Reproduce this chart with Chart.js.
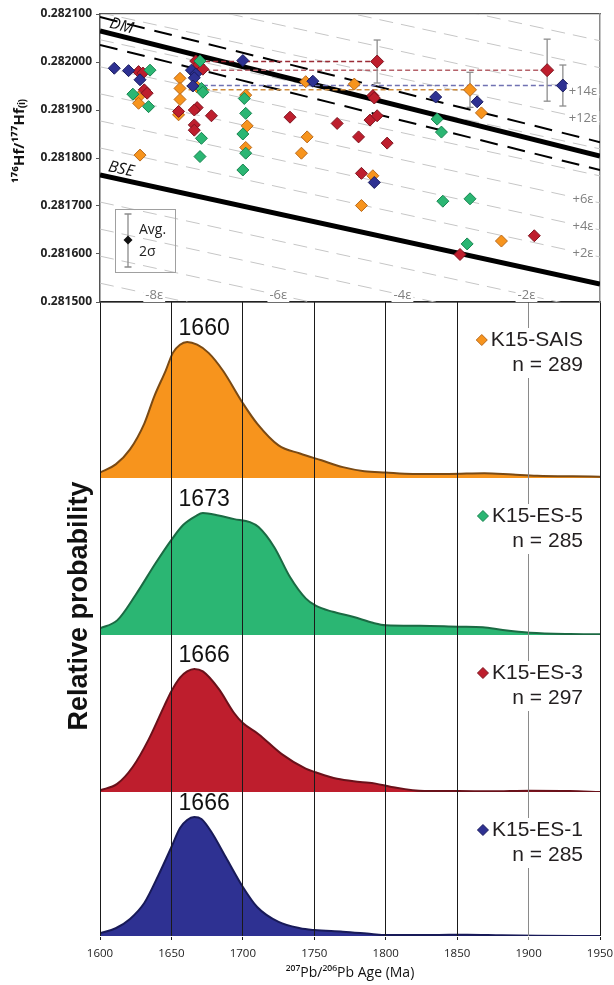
<!DOCTYPE html>
<html>
<head>
<meta charset="utf-8">
<script src="https://cdn.jsdelivr.net/npm/chart.js@4.4.1/dist/chart.umd.min.js"></script>
<style>
  body { margin: 0; background: #fff; width: 614px; height: 985px; position: relative; overflow: hidden; }
  #hfBox  { position: absolute; left: 0; top: 0;     width: 614px; height: 312px; z-index: 2; }
  #kdeBox { position: absolute; left: 0; top: 302px; width: 614px; height: 683px; z-index: 1; }
</style>
</head>
<body>
<div id="hfBox"><canvas id="hfChart"></canvas></div>
<div id="kdeBox"><canvas id="kdeChart"></canvas></div>
<script>
// ====== Hf DATA (207Pb/206Pb age in Ma, initial 176Hf/177Hf) ======
const SAIS_AGE = [1627, 1627, 1628, 1656, 1656, 1656, 1655, 1668, 1702, 1703, 1702, 1744, 1778, 1745, 1741, 1791, 1783, 1867, 1881];
const SAIS_HF  = [0.281927, 0.281914, 0.281806, 0.281966, 0.281945, 0.281922, 0.281890, 0.281948, 0.281931, 0.281867, 0.281822, 0.281959, 0.281954, 0.281844, 0.281810, 0.281763, 0.281701, 0.281894, 0.281627];
const ES5_AGE  = [1635, 1623, 1634, 1670, 1671, 1672, 1671, 1670, 1701, 1702, 1700, 1702, 1700, 1836, 1839, 1840, 1859, 1857];
const ES5_HF   = [0.281983, 0.281933, 0.281907, 0.282002, 0.281945, 0.281937, 0.281841, 0.281803, 0.281924, 0.281893, 0.281850, 0.281810, 0.281775, 0.281881, 0.281854, 0.281710, 0.281715, 0.281621];
const ES3_AGE  = [1627, 1630, 1631, 1633, 1667, 1669, 1672, 1655, 1668, 1666, 1678, 1666, 1666, 1733, 1791, 1792, 1766, 1789, 1794, 1781, 1801, 1783, 1852, 1904];
const ES3_HF   = [0.281980, 0.281977, 0.281942, 0.281935, 0.282002, 0.281994, 0.281985, 0.281897, 0.281905, 0.281900, 0.281888, 0.281869, 0.281858, 0.281885, 0.281930, 0.281925, 0.281872, 0.281879, 0.281888, 0.281844, 0.281831, 0.281768, 0.281599, 0.281638];
const ES1_AGE  = [1610, 1620, 1628, 1700, 1664, 1667, 1666, 1665, 1749, 1835, 1864, 1792];
const ES1_HF   = [0.281987, 0.281982, 0.281963, 0.282003, 0.281983, 0.281975, 0.281967, 0.281950, 0.281960, 0.281927, 0.281917, 0.281749];

// sample averages with 2 sigma
const AVG_SAMPLE = [2, 2, 3, 0];           // index into SAMPLE_*
const AVG_AGE    = [1794, 1913, 1924, 1859];
const AVG_HF     = [0.282001, 0.281983, 0.281951, 0.281942];
const AVG_2SD    = [0.0000448, 0.0000646, 0.0000427, 0.0000365];
const AVG_FROM   = [1668, 1668, 1672, 1662];

// reference curves
const REF_AGE = [1600, 1950];
const DM_HF   = [0.2820646, 0.2818040];
const DM_BAND = 0.0000290;
const BSE_HF  = [0.2817646, 0.2815375];
const EPS_LEVELS = [-8, -6, -4, -2, 2, 4, 6, 8, 10, 12, 14, 16, 18, 20];
const EPS_RIGHT_LABELS  = [14, 12, 6, 4, 2];
const EPS_BOTTOM_LABELS = [-8, -6, -4, -2];
const HF_TICKS  = [0.2815, 0.2816, 0.2817, 0.2818, 0.2819, 0.2820, 0.2821];
const AGE_TICKS = [1600, 1650, 1700, 1750, 1800, 1850, 1900, 1950];

// ====== KDE DATA (relative probability, peak = 1) ======
const SAIS_KDE_AGE = [1600, 1611, 1621, 1631, 1638, 1646, 1651, 1656, 1661, 1668, 1676, 1686, 1700, 1710, 1725, 1740, 1755, 1770, 1785, 1800, 1819, 1844, 1869, 1889, 1906, 1931, 1950];
const SAIS_KDE_P   = [0.04, 0.10, 0.21, 0.40, 0.60, 0.79, 0.92, 0.98, 1.00, 0.98, 0.92, 0.79, 0.55, 0.40, 0.24, 0.18, 0.13, 0.08, 0.05, 0.04, 0.03, 0.03, 0.035, 0.025, 0.017, 0.012, 0.01];
const ES5_KDE_AGE  = [1600, 1612, 1625, 1639, 1650, 1658, 1667, 1672, 1683, 1694, 1705, 1711, 1722, 1733, 1744, 1751, 1763, 1777, 1791, 1800, 1824, 1851, 1868, 1882, 1901, 1929, 1950];
const ES5_KDE_P    = [0.055, 0.12, 0.33, 0.59, 0.78, 0.90, 0.975, 1.00, 0.98, 0.95, 0.925, 0.885, 0.72, 0.475, 0.30, 0.24, 0.19, 0.15, 0.10, 0.08, 0.076, 0.068, 0.063, 0.041, 0.019, 0.008, 0.006];
const ES3_KDE_AGE  = [1600, 1612, 1623, 1634, 1645, 1650, 1656, 1661, 1666, 1672, 1683, 1694, 1700, 1711, 1727, 1744, 1751, 1766, 1782, 1793, 1804, 1827, 1851, 1873, 1901, 1929, 1950];
const ES3_KDE_P    = [0.014, 0.066, 0.205, 0.426, 0.70, 0.82, 0.93, 0.98, 1.00, 0.98, 0.84, 0.64, 0.56, 0.47, 0.31, 0.19, 0.16, 0.107, 0.082, 0.068, 0.041, 0.008, 0.008, 0.006, 0.011, 0.008, 0.0];
const ES1_KDE_AGE  = [1600, 1611, 1621, 1631, 1641, 1650, 1656, 1661, 1666, 1671, 1678, 1688, 1700, 1710, 1725, 1740, 1750, 1770, 1790, 1800, 1832, 1857, 1881, 1906, 1950];
const ES1_KDE_P    = [0.023, 0.065, 0.143, 0.277, 0.513, 0.748, 0.908, 0.975, 1.0, 0.983, 0.874, 0.664, 0.412, 0.244, 0.118, 0.065, 0.05, 0.036, 0.017, 0.008, 0.008, 0.011, 0.006, 0.003, 0];

const SAMPLE_NAME = ['K15-SAIS', 'K15-ES-5', 'K15-ES-3', 'K15-ES-1'];
const SAMPLE_N    = [289, 285, 297, 285];
const SAMPLE_PEAK = [1660, 1673, 1666, 1666];

// ====== STYLE ======
const FILL = ['#f7941d', '#2bb673', '#be1e2d', '#2e3192'];
const EDGE = ['#7a4a14', '#1b6a43', '#6a111a', '#181a58'];
const DOT_EDGE = ['#b8681a', '#17834f', '#7e1520', '#1a1c5e'];
const AVG_LINE = ['#9b2b35', '#b5626a', '#7072b2', '#d08d3e'];
const PANEL_H  = [176, 157, 157, 144];
const PANEL_MAX = [1.294, 1.287, 1.276, 1.21];
const PEAK_LABEL_AGE = 1655;
const SANS = '"Open Sans", sans-serif';
const ARIAL = '"Liberation Sans", Arial, sans-serif';

Chart.defaults.font.family = SANS;
Chart.defaults.color = '#222';
Chart.defaults.elements.point.hoverRadius = 0;

// ====== HELPERS ======
const pts = (ages, vals) => ages.map((a, i) => ({ x: a, y: vals[i] }));
const refLine = (vals, extra) => Object.assign(
  { data: pts(REF_AGE, vals), showLine: true, pointRadius: 0, pointBorderWidth: 0, fill: false, borderColor: '#000' }, extra);
const dots = (ages, vals, k) => ({
  data: pts(ages, vals), pointStyle: 'rectRot', pointRadius: 6,
  backgroundColor: FILL[k], borderColor: DOT_EDGE[k], borderWidth: 1
});
function diamond(ctx, x, y, r, fill, edge) {
  ctx.beginPath();
  ctx.moveTo(x, y - r); ctx.lineTo(x + r, y); ctx.lineTo(x, y + r); ctx.lineTo(x - r, y);
  ctx.closePath();
  ctx.fillStyle = fill; ctx.fill();
  if (edge) { ctx.strokeStyle = edge; ctx.lineWidth = 1; ctx.stroke(); }
}
function boxedText(ctx, text, cx, cy, color) {
  const w = ctx.measureText(text).width;
  ctx.fillStyle = '#fff';
  ctx.fillRect(cx - w / 2 - 2, cy - 7, w + 4, 14);
  ctx.fillStyle = color;
  ctx.fillText(text, cx, cy);
}
// keep plot edges fixed: no extra room for edge tick labels
const noEdgePad = s => { s.paddingLeft = 0; s.paddingRight = 0; s.paddingTop = 0; s.paddingBottom = 0; };

// ====== TOP PANEL: Hf vs age ======
const hfDecor = {
  id: 'hfDecor',
  afterDraw(chart) {
    const { ctx, chartArea: a, scales: { x, y } } = chart;
    const x0 = x.getPixelForValue(REF_AGE[0]), x1 = x.getPixelForValue(REF_AGE[1]);
    const lineY = (vals, px) => {
      const y0 = y.getPixelForValue(vals[0]), y1 = y.getPixelForValue(vals[1]);
      return y0 + (y1 - y0) * (px - x0) / (x1 - x0);
    };
    const eps = L => BSE_HF.map(v => v * (1 + L / 1e4));
    ctx.save();

    // epsilon labels
    ctx.font = '13px ' + SANS;
    ctx.textAlign = 'center'; ctx.textBaseline = 'middle';
    EPS_RIGHT_LABELS.forEach(L => {
      const cx = a.right - 17;
      boxedText(ctx, '+' + L + 'ε', cx, lineY(eps(L), cx), '#808080');
    });
    EPS_BOTTOM_LABELS.forEach(L => {
      const target = a.bottom - 7;
      const yl = lineY(eps(L), a.left), yr = lineY(eps(L), a.right);
      const cx = a.left + (target - yl) / (yr - yl) * (a.right - a.left);
      boxedText(ctx, '-' + Math.abs(L) + 'ε', cx, target, '#808080');
    });

    // DM / BSE labels along their lines
    [[DM_HF, 'DM'], [BSE_HF, 'BSE']].forEach(([vals, txt]) => {
      const px = a.left + 19;
      const ang = Math.atan2(lineY(vals, x1) - lineY(vals, x0), x1 - x0);
      ctx.save();
      ctx.translate(px + 10 * Math.sin(ang), lineY(vals, px) - 10 * Math.cos(ang));
      ctx.rotate(ang);
      ctx.font = 'italic 16px ' + SANS;
      ctx.fillStyle = '#111';
      ctx.fillText(txt, 0, 0);
      ctx.restore();
    });

    // Avg. 2 sigma key
    const kx = a.left + 15, ky = a.top + 195;
    ctx.strokeStyle = '#a0a0a0'; ctx.lineWidth = 1;
    ctx.strokeRect(kx + 0.5, ky + 0.5, 60, 63);
    ctx.strokeStyle = '#8c8c8c'; ctx.lineWidth = 1.3;
    ctx.beginPath();
    ctx.moveTo(kx + 13, ky + 5); ctx.lineTo(kx + 13, ky + 58);
    ctx.moveTo(kx + 9.5, ky + 5); ctx.lineTo(kx + 16.5, ky + 5);
    ctx.moveTo(kx + 9.5, ky + 58); ctx.lineTo(kx + 16.5, ky + 58);
    ctx.stroke();
    diamond(ctx, kx + 13, ky + 31, 4.5, '#111');
    ctx.fillStyle = '#222'; ctx.textAlign = 'left';
    ctx.font = '14px ' + SANS;
    ctx.fillText('Avg.', kx + 24, ky + 21);
    ctx.fillText('2σ', kx + 24, ky + 43);

    // y axis title
    ctx.translate(20, 141);
    ctx.rotate(-Math.PI / 2);
    ctx.font = 'bold 15px ' + SANS;
    ctx.textAlign = 'center';
    ctx.fillStyle = '#111';
    ctx.fillText('¹⁷⁶Hf/¹⁷⁷Hf₍ᵢ₎', 0, 0);
    ctx.restore();
  }
};

const hfDatasets = [
  { data: pts(AVG_AGE, AVG_HF), pointStyle: 'rectRot', pointRadius: 6.5,
    backgroundColor: AVG_SAMPLE.map(k => FILL[k]), borderColor: AVG_SAMPLE.map(k => DOT_EDGE[k]), borderWidth: 1 },
  ...AVG_AGE.map((a, i) => ({
    data: [{ x: a, y: AVG_HF[i] - AVG_2SD[i] }, { x: a, y: AVG_HF[i] + AVG_2SD[i] }],
    showLine: true, borderColor: '#8c8c8c', borderWidth: 1.3,
    pointStyle: 'line', pointRadius: 3.5, pointBorderColor: '#8c8c8c', pointBorderWidth: 1.3
  })),
  dots(ES1_AGE, ES1_HF, 3),
  dots(ES5_AGE, ES5_HF, 1),
  dots(ES3_AGE, ES3_HF, 2),
  dots(SAIS_AGE, SAIS_HF, 0),
  ...AVG_AGE.map((a, i) => ({
    data: [{ x: AVG_FROM[i], y: AVG_HF[i] }, { x: a, y: AVG_HF[i] }],
    showLine: true, pointRadius: 0, pointBorderWidth: 0, borderColor: AVG_LINE[i], borderWidth: 1.5, borderDash: [5, 3]
  })),
  refLine(DM_HF, { borderWidth: 5 }),
  refLine(BSE_HF, { borderWidth: 5 }),
  refLine(DM_HF.map(v => v + DM_BAND), { borderWidth: 2, borderDash: [18, 10] }),
  refLine(DM_HF.map(v => v - DM_BAND), { borderWidth: 2, borderDash: [18, 10] }),
  ...EPS_LEVELS.map(L => refLine(BSE_HF.map(v => v * (1 + L / 1e4)),
    { borderColor: '#c6c6c6', borderWidth: 1, borderDash: [14, 8] }))
];

const hiddenAxis = (pos, border, fit) => ({
  type: 'linear', position: pos, ticks: { display: false }, grid: { display: false, drawTicks: false },
  border: border, afterFit: s => { fit(s); noEdgePad(s); }
});

new Chart(document.getElementById('hfChart'), {
  type: 'scatter',
  data: { datasets: hfDatasets },
  options: {
    responsive: true, maintainAspectRatio: false, animation: false, events: [],
    layout: { autoPadding: false, padding: { top: 14, right: 14, bottom: 10, left: 0 } },
    plugins: { legend: { display: false }, tooltip: { enabled: false } },
    scales: {
      x:  Object.assign(hiddenAxis('bottom', { color: '#222', width: 1.5 }, s => { s.height = 0; }), { min: 1600, max: 1950 }),
      x2: Object.assign(hiddenAxis('top', { color: '#555', width: 1.2 }, s => { s.height = 0; }), { min: 1600, max: 1950 }),
      y: {
        type: 'linear', min: 0.2815, max: 0.2821,
        afterBuildTicks: s => { s.ticks = HF_TICKS.map(v => ({ value: v })); },
        ticks: { font: { size: 12, weight: 'bold' }, color: '#222', padding: 4, callback: v => v.toFixed(6) },
        grid: { display: true, drawOnChartArea: false, tickLength: 4, color: '#555' },
        border: { color: '#555', width: 1.5 },
        afterFit: s => { s.width = 100; noEdgePad(s); }
      },
      y2: Object.assign(hiddenAxis('right', { color: '#8a8a8a', width: 1.5 }, s => { s.width = 0; }), { min: 0.2815, max: 0.2821 })
    }
  },
  plugins: [hfDecor]
});

// ====== BOTTOM PANELS: probability density ======
const KDE_AGE = [SAIS_KDE_AGE, ES5_KDE_AGE, ES3_KDE_AGE, ES1_KDE_AGE];
const KDE_P   = [SAIS_KDE_P, ES5_KDE_P, ES3_KDE_P, ES1_KDE_P];
const KDE_AXIS = ['yA', 'yB', 'yC', 'yD'];

const kdeDecor = {
  id: 'kdeDecor',
  afterDraw(chart) {
    const { ctx, chartArea: a, scales } = chart;
    const x = scales.x;
    ctx.save();
    KDE_AXIS.forEach((id, i) => {
      const ys = scales[id];
      // peak age label
      ctx.font = '23px ' + ARIAL;
      ctx.fillStyle = '#111'; ctx.textAlign = 'left'; ctx.textBaseline = 'alphabetic';
      ctx.fillText(String(SAMPLE_PEAK[i]), x.getPixelForValue(PEAK_LABEL_AGE), ys.getPixelForValue(1) - 7);
      // sample key
      const rx = a.right - 17, ty = ys.top + 38;
      const name = SAMPLE_NAME[i], nTxt = 'n = ' + SAMPLE_N[i];
      ctx.font = '21px ' + ARIAL;
      const w1 = ctx.measureText(name).width, w2 = ctx.measureText(nTxt).width;
      ctx.fillStyle = '#fff';
      ctx.fillRect(rx - w1 - 16, ty - 12, w1 + 18, 24);
      ctx.fillRect(rx - w2 - 2, ty + 12, w2 + 4, 26);
      diamond(ctx, rx - w1 - 9, ty, 5.5, FILL[i], DOT_EDGE[i]);
      ctx.fillStyle = '#231f20'; ctx.textAlign = 'right'; ctx.textBaseline = 'middle';
      ctx.fillText(name, rx, ty);
      ctx.fillText(nTxt, rx, ty + 25);
    });
    // shared y title
    ctx.translate(80, (a.top + a.bottom) / 2 - 13);
    ctx.rotate(-Math.PI / 2);
    ctx.font = 'bold 27px ' + ARIAL;
    ctx.fillStyle = '#111'; ctx.textAlign = 'center'; ctx.textBaseline = 'middle';
    ctx.fillText('Relative probability', 0, 0);
    ctx.restore();
  }
};

const kdeScales = {
  x: {
    type: 'linear', min: 1600, max: 1950,
    afterBuildTicks: s => { s.ticks = AGE_TICKS.map(v => ({ value: v })); },
    ticks: { font: { size: 11.5 }, color: '#222', padding: 7, callback: v => String(v) },
    grid: { z: 1, lineWidth: 1, tickLength: 4, color: c => (c.tick && c.tick.value === 1900) ? '#8a8a8a' : '#1a1a1a' },
    border: { color: '#777', width: 1 },
    title: { display: true, text: '²⁰⁷Pb/²⁰⁶Pb Age (Ma)', font: { size: 14 }, color: '#111', padding: { top: 0, bottom: 4 } },
    afterFit: s => { s.height = 49; noEdgePad(s); }
  }
};
// stacked axes are placed top-down in reverse order of definition
[3, 2, 1, 0].forEach(i => {
  kdeScales[KDE_AXIS[i]] = {
    type: 'linear', position: 'left', stack: 'kde', stackWeight: PANEL_H[i], offset: false,
    min: 0, max: PANEL_MAX[i],
    ticks: { display: false }, grid: { display: false }, border: { display: false },
    afterFit: s => { s.width = 100; noEdgePad(s); }
  };
});

new Chart(document.getElementById('kdeChart'), {
  type: 'line',
  data: {
    datasets: KDE_AXIS.map((id, i) => ({
      data: pts(KDE_AGE[i], KDE_P[i]), yAxisID: id,
      fill: 'origin', backgroundColor: FILL[i], borderColor: EDGE[i], borderWidth: 2,
      pointRadius: 0, cubicInterpolationMode: 'monotone'
    }))
  },
  options: {
    responsive: true, maintainAspectRatio: false, animation: false, events: [],
    layout: { autoPadding: false, padding: { top: 0, right: 14, bottom: 0, left: 0 } },
    plugins: { legend: { display: false }, tooltip: { enabled: false } },
    scales: kdeScales
  },
  plugins: [kdeDecor]
});
</script>
</body>
</html>
